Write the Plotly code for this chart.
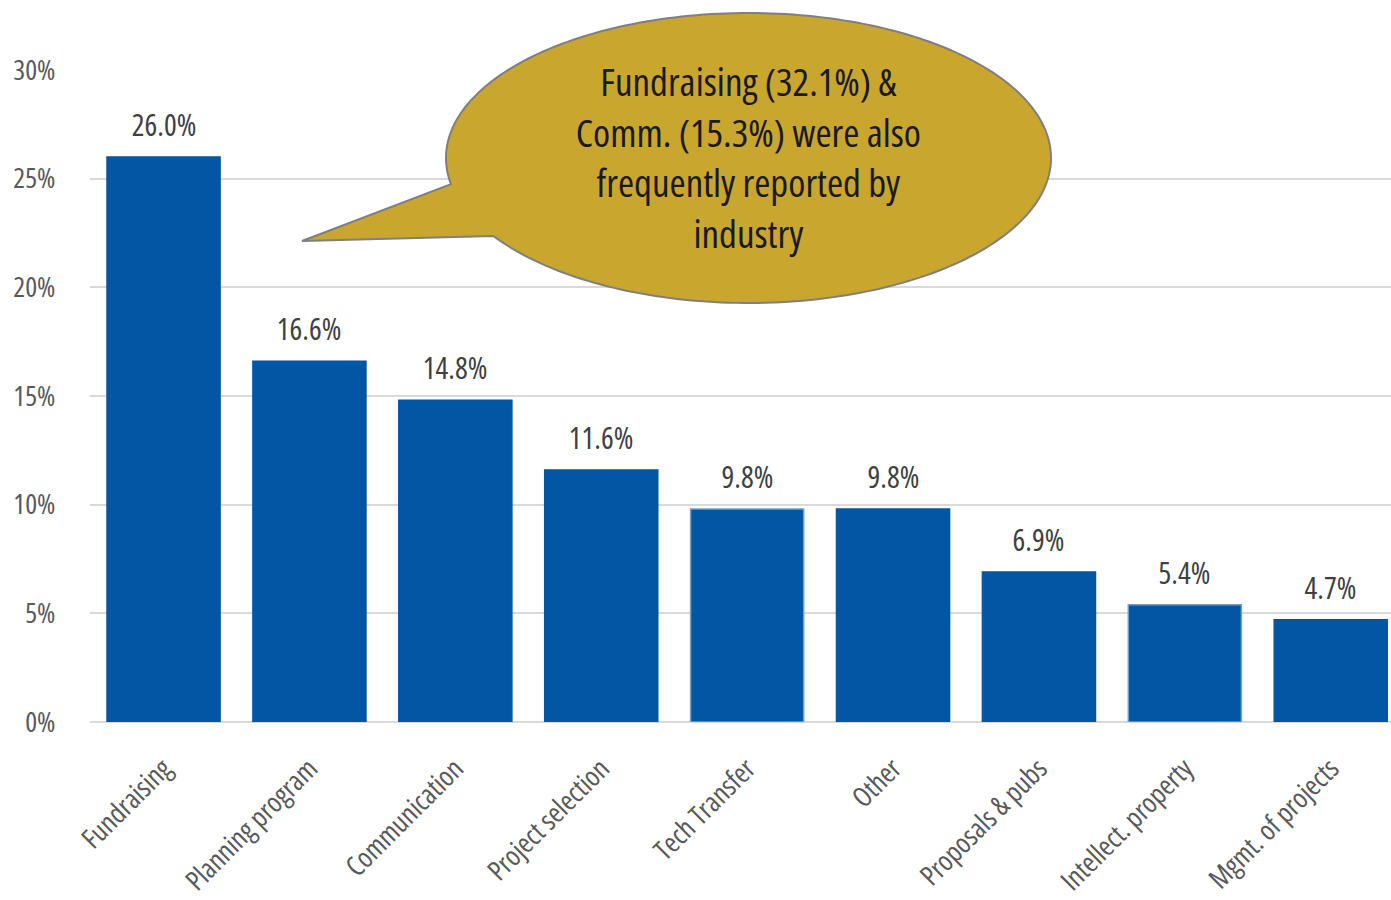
import numpy as np
import plotly.graph_objects as go

# Share of respondents citing each area
categories = ["Fundraising", "Planning program", "Communication", "Project selection",
              "Tech Transfer", "Other", "Proposals & pubs", "Intellect. property",
              "Mgmt. of projects"]
shares = [26.0, 16.6, 14.8, 11.6, 9.8, 9.8, 6.9, 5.4, 4.7]
y_ticks = [0, 5, 10, 15, 20, 25, 30]
y_tick_labels = ["0%", "5%", "10%", "15%", "20%", "25%", "30%"]
callout_text = "Fundraising (32.1%) &<br>Comm. (15.3%) were also<br>frequently reported by<br>industry"

FONT = "Open Sans, sans-serif"
BAR = "#0356A3"
edge_colors = [BAR, BAR, BAR, BAR, "#6E9FCF", BAR, BAR, "#6E9FCF", BAR]

W, H = 1391, 900
L, R, T, B = 90, 0, 70, 178
xpos = list(range(len(categories)))

fig = go.Figure(go.Bar(
    x=xpos,
    y=shares,
    width=0.775,
    marker=dict(color=BAR, line=dict(color=edge_colors, width=1.5)),
    cliponaxis=False,
    hoverinfo="skip",
))

# Value labels above each bar
for xi, v in zip(xpos, shares):
    fig.add_annotation(x=xi, y=v, xref="x", yref="y", text=f"{v:.1f}%",
                       showarrow=False, xanchor="center", yanchor="bottom", yshift=10,
                       font=dict(family=FONT, size=30, color="#404040"))

# Speech-bubble callout: ellipse with a pointer tail (pixel geometry -> paper coords)
cx, cy, rx, ry = 748.5, 158.0, 302.5, 145.0
tip = (302.0, 241.0)
a1, a2 = np.deg2rad(169.6), np.deg2rad(147.5)
pts = [(cx + rx * np.cos(a1), cy + ry * np.sin(a1)), tip]
for t in np.linspace(a2, a1 - 2 * np.pi, 240):
    pts.append((cx + rx * np.cos(t), cy + ry * np.sin(t)))
pw, ph = W - L - R, H - T - B


def to_paper(p):
    return (p[0] - L) / pw, (H - B - p[1]) / ph


path = "M " + " L ".join(f"{x:.5f},{y:.5f}" for x, y in map(to_paper, pts)) + " Z"
fig.add_shape(type="path", path=path, xref="paper", yref="paper",
              fillcolor="#C9A62E", line=dict(color="#7F7F7F", width=2), layer="above")

tx, ty = to_paper((cx, 156))
fig.add_annotation(text=callout_text, xref="paper", yref="paper", x=tx, y=ty,
                   xanchor="center", yanchor="middle", showarrow=False, align="center",
                   font=dict(family=FONT, size=39, color="#1A1A1A"))

fig.update_layout(
    width=W, height=H,
    margin=dict(l=L, r=R, t=T, b=B, autoexpand=False),
    paper_bgcolor="white", plot_bgcolor="white",
    showlegend=False,
    font=dict(family=FONT),
)
fig.update_xaxes(
    range=[-0.504, 8.413], automargin=False,
    tickmode="array", tickvals=xpos, ticktext=categories,
    tickangle=-45,
    tickfont=dict(family=FONT, size=28, color="#595959"),
    showgrid=False, zeroline=False, showline=False,
    ticks="outside", ticklen=18, tickcolor="rgba(0,0,0,0)",
)
fig.update_yaxes(
    range=[0, 30], automargin=False,
    tickmode="array", tickvals=y_ticks, ticktext=y_tick_labels,
    tickfont=dict(family=FONT, size=28, color="#595959"),
    showgrid=True, gridcolor="#D9D9D9", gridwidth=1.5,
    zeroline=True, zerolinecolor="#D9D9D9", zerolinewidth=1.5,
    showline=False,
    ticks="outside", ticklen=28, tickcolor="rgba(0,0,0,0)",
)

# Narrow (condensed) letterforms for all chart text
condense = """
function narrow(){
  document.querySelectorAll('.js-plotly-plot svg text').forEach(function(t){
    t.style.fontStretch = '75%';
  });
}
narrow();
var gd = document.getElementById('{plot_id}');
gd.on('plotly_afterplot', narrow);
"""

fig.write_html("out.html", post_script=condense)
